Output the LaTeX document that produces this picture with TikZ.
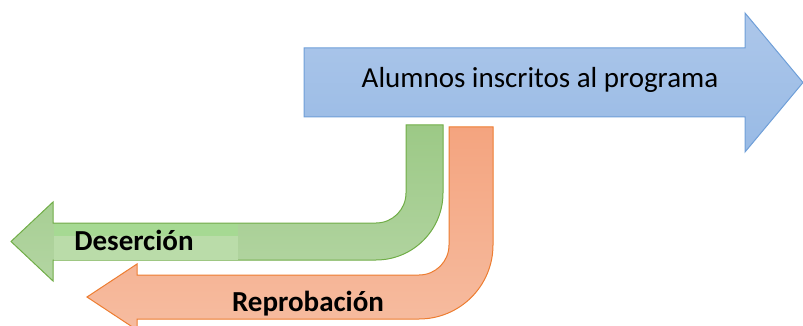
\documentclass[tikz,border=0pt]{standalone}
\usepackage{fontspec}
\setmainfont{Carlito}
\definecolor{bluefillA}{HTML}{ADC7EA}
\definecolor{bluefillB}{HTML}{98BAE5}
\definecolor{blueline}{HTML}{6F9FD8}
\definecolor{greenfillA}{HTML}{9CC986}
\definecolor{greenfillB}{HTML}{B3D5A2}
\definecolor{greenline}{HTML}{70AD47}
\definecolor{greenhiA}{HTML}{A6D993}
\definecolor{greenhiB}{HTML}{BADCA9}
\definecolor{orangefillA}{HTML}{F4A47F}
\definecolor{orangefillB}{HTML}{F6BCA0}
\definecolor{orangeline}{HTML}{ED7D31}
\tikzset{
  bluearrow/.style={draw=blueline, line width=1pt, top color=bluefillA, bottom color=bluefillB},
  greenarrow/.style={draw=greenline, line width=1pt, top color=greenfillA, bottom color=greenfillB},
  orangearrow/.style={draw=orangeline, line width=1pt, top color=orangefillA, bottom color=orangefillB},
  lbl/.style={font=\fontsize{29}{34}\selectfont, inner sep=0pt},
  boldlbl/.style={font=\fontsize{29}{34}\selectfont\bfseries, inner sep=0pt}
}
\begin{document}
\begin{tikzpicture}[x=1pt,y=-1pt]
\useasboundingbox (0,0) rectangle (803,326);
% blue arrow
\draw[bluearrow] (304,48) -- (745,48) -- (745,13) -- (803,82.5) -- (745,152) -- (745,117) -- (304,117) -- cycle;
\node[lbl] (alum) at (540,80) {Alumnos inscritos al programa};
% green arrow
\draw[greenarrow] (406,125) -- (443,125) -- (443,193)
  .. controls (443,230) and (413,260) .. (376,260) -- (53,260) -- (53,281) -- (11,241.5) -- (53,202) -- (53,223) -- (376,223)
  .. controls (392.6,223) and (406,209.6) .. (406,193) -- cycle;
\fill[greenhiB] (53.5,223.5) rectangle (238,259.5);
\fill[greenhiA] (53.5,223.5) rectangle (238,236);
\node[boldlbl] (des) at (134,240) {Deserción};
% orange arrow
\draw[orangearrow] (449,127) -- (493,127) -- (493,245)
  .. controls (493,285.9) and (459.9,319) .. (419,319) -- (137,319) -- (137,330) -- (87,297) -- (137,264) -- (137,275) -- (419,275)
  .. controls (435.6,275) and (449,261.6) .. (449,245) -- cycle;
\node[boldlbl] (rep) at (308,304) {Reprobación};
\end{tikzpicture}
\end{document}
